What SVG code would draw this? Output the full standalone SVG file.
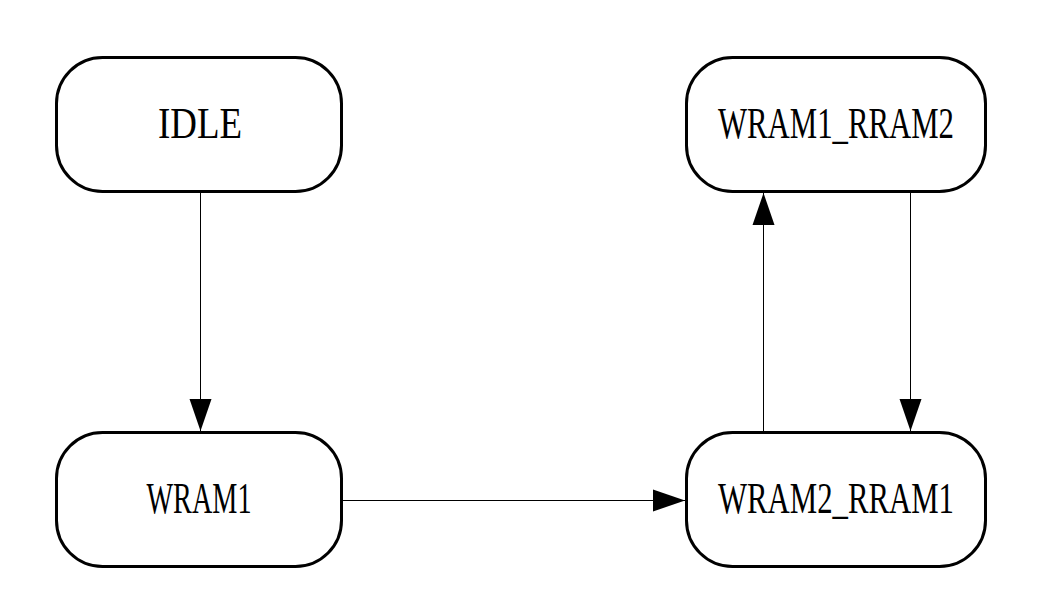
<svg xmlns="http://www.w3.org/2000/svg" width="1059" height="605" viewBox="0 0 1059 605">
<defs>
<style>
.node rect{fill:#fff;stroke:#000;stroke-width:3}
.node text{font-family:"Liberation Serif","DejaVu Serif",serif;font-size:44px;fill:#000;text-anchor:middle}
.edge{stroke:#000;stroke-width:1;fill:none}
</style>
<marker id="ah" viewBox="0 0 32 24" refX="32" refY="12" markerWidth="32" markerHeight="24" markerUnits="userSpaceOnUse" orient="auto">
<path d="M0,1 L32,12 L0,23 Z" fill="#000"/>
</marker>
</defs>
<rect width="1059" height="605" fill="#fff"/>
<g id="connectors">
<line class="edge" x1="200.5" y1="193" x2="200.5" y2="431" marker-end="url(#ah)"/>
<line class="edge" x1="343" y1="500.5" x2="685" y2="500.5" marker-end="url(#ah)"/>
<line class="edge" x1="763.5" y1="431" x2="763.5" y2="193" marker-end="url(#ah)"/>
<line class="edge" x1="910.5" y1="193" x2="910.5" y2="431" marker-end="url(#ah)"/>
</g>
<g id="IDLE" class="node">
<rect x="56.5" y="57.5" width="285" height="134" rx="46" ry="46"/>
<text x="200" y="138" textLength="84" lengthAdjust="spacingAndGlyphs">IDLE</text>
</g>
<g id="WRAM1" class="node">
<rect x="56.5" y="432.5" width="285" height="134" rx="46" ry="46"/>
<text x="199" y="513" textLength="105" lengthAdjust="spacingAndGlyphs">WRAM1</text>
</g>
<g id="WRAM1_RRAM2" class="node">
<rect x="686.5" y="57.5" width="299" height="134" rx="46" ry="46"/>
<text x="836" y="138" textLength="236" lengthAdjust="spacingAndGlyphs">WRAM1_RRAM2</text>
</g>
<g id="WRAM2_RRAM1" class="node">
<rect x="686.5" y="432.5" width="299" height="134" rx="46" ry="46"/>
<text x="836" y="513" textLength="236" lengthAdjust="spacingAndGlyphs">WRAM2_RRAM1</text>
</g>
</svg>
